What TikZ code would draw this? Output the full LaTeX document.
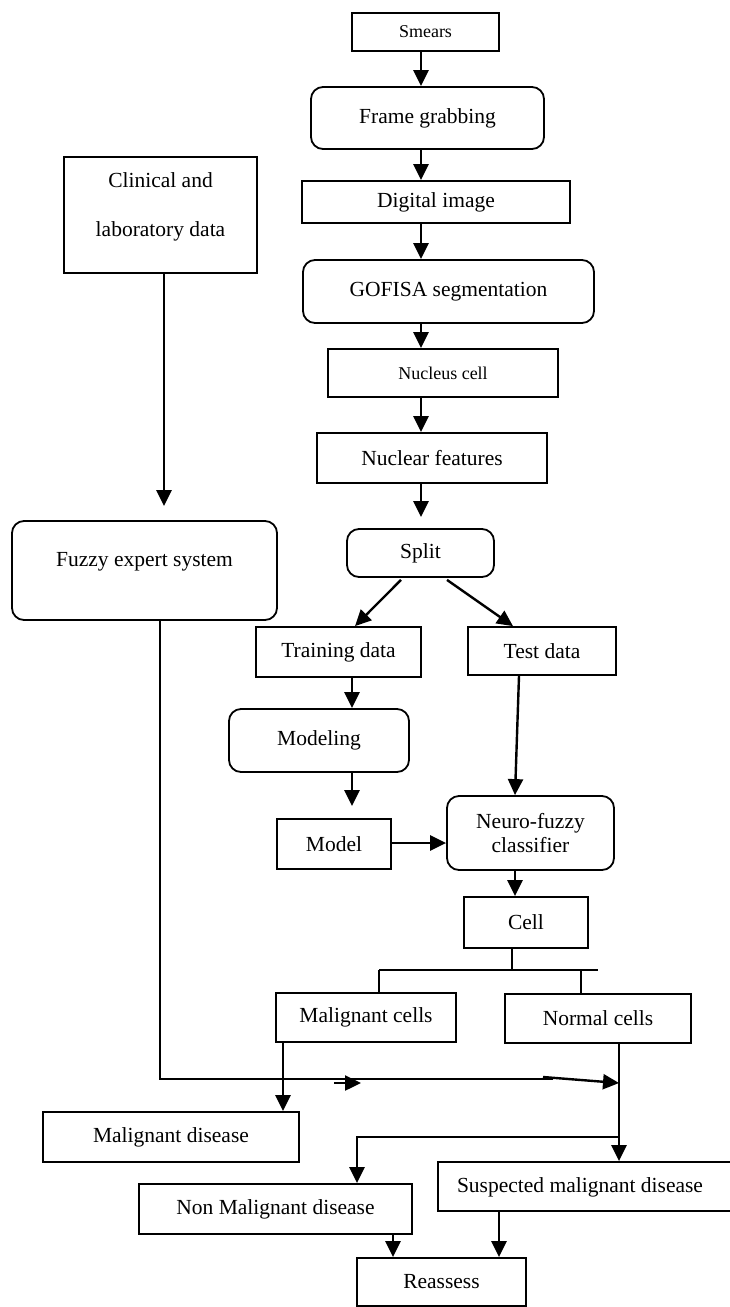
\documentclass[tikz,border=0pt]{standalone}
\usepackage{fontspec}
\setmainfont{Liberation Serif}
\usetikzlibrary{arrows.meta,calc}
\begin{document}
\begin{tikzpicture}[x=1pt,y=-1pt,
  box/.style={draw,line width=1.8pt,inner sep=0pt,font=\fontsize{21.5pt}{25pt}\selectfont,align=center},
  rbox/.style={box,rounded corners=12pt},
  small/.style={font=\fontsize{18pt}{22pt}\selectfont},
  txt/.style={inner sep=0pt,font=\fontsize{21.5pt}{25pt}\selectfont,align=center},
  arr/.style={line width=2.4pt,-{Triangle[length=16pt,width=15pt]}},
  ln/.style={line width=1.8pt},
]
\useasboundingbox (0,0) rectangle (729,1307);
% nodes
\node[box,small,minimum width=147pt,minimum height=38pt] (smears) at (425.5,32) {Smears};
\node[rbox,minimum width=233pt,minimum height=62pt] (frame) at (427.5,118) {Frame grabbing};
\node[box,minimum width=268pt,minimum height=42pt] (digital) at (436,202) {Digital image};
\node[rbox,minimum width=291pt,minimum height=63pt] (gofisa) at (448.5,291.5) {GOFISA segmentation};
\node[box,minimum width=193pt,minimum height=116pt] (clinical) at (160.5,215) {};
\node[txt] (clinicalT) at (160.5,207) {Clinical and\\[24pt]laboratory data};
\node[box,small,minimum width=230pt,minimum height=48pt] (nucleus) at (443,373) {Nucleus cell};
\node[box,minimum width=230pt,minimum height=50pt] (nuclear) at (432,458) {Nuclear features};
\node[rbox,minimum width=147pt,minimum height=48pt] (split) at (420.5,553) {Split};
\node[rbox,minimum width=265pt,minimum height=99pt] (fuzzy) at (144.5,570.5) {};
\node[txt] (fuzzyT) at (144.5,562) {Fuzzy expert system};
\node[box,minimum width=165pt,minimum height=50pt] (training) at (338.5,652) {Training data};
\node[box,minimum width=148pt,minimum height=48pt] (test) at (542,651) {Test data};
\node[rbox,minimum width=180pt,minimum height=63pt] (modeling) at (319,740.5) {Modeling};
\node[box,minimum width=114pt,minimum height=50pt] (model) at (334,844) {Model};
\node[rbox,minimum width=167pt,minimum height=74pt] (neuro) at (530.5,833) {Neuro-fuzzy\\[-1pt]classifier};
\node[box,minimum width=124pt,minimum height=51pt] (cell) at (526,922.5) {Cell};
\node[box,minimum width=180pt,minimum height=49pt] (malcells) at (366,1017.5) {Malignant cells};
\node[box,minimum width=186pt,minimum height=49pt] (normal) at (598,1018.5) {Normal cells};
\node[box,minimum width=256pt,minimum height=50pt] (maldis) at (171,1137) {Malignant disease};
\node[box,minimum width=307pt,minimum height=49pt] (suspected) at (591.5,1186.5) {};
\node[txt] (suspectedT) at (580,1187) {Suspected malignant disease};
\node[box,minimum width=273pt,minimum height=50pt] (nonmal) at (275.5,1209) {Non Malignant disease};
\node[box,minimum width=169pt,minimum height=48pt] (reassess) at (441.5,1282) {Reassess};
% helper coordinates
\coordinate (mx) at (421,0);
\coordinate (tx) at (352,0);
\coordinate (cx) at (515,0);
\coordinate (clx) at (164,0);
\coordinate (fx) at (160,0);
\coordinate (mcx) at (283,0);
\coordinate (nx) at (619,0);
\coordinate (rx1) at (393,0);
\coordinate (rx2) at (499,0);
% main column
\draw[arr] (smears.south -| mx) -- (frame.north -| mx);
\draw[arr] (frame.south -| mx) -- (digital.north -| mx);
\draw[arr] (digital.south -| mx) -- (gofisa.north -| mx);
\draw[arr] (gofisa.south -| mx) -- (nucleus.north -| mx);
\draw[arr] (nucleus.south -| mx) -- (nuclear.north -| mx);
\draw[arr] (nuclear.south -| mx) -- ($(split.north -| mx)+(0,-11)$);
\draw[arr] ($(split.south)+(-19.5,2)$) -- ($(training.north)+(16.5,0)$);
\draw[arr] ($(split.south)+(26.5,2)$) -- ($(test.north)+(-29,0)$);
\draw[arr] (training.south -| tx) -- (modeling.north -| tx);
\draw[arr] (modeling.south -| tx) -- ($(model.north -| tx)+(0,-12)$);
\draw[arr] ($(model.east)+(0,-1)$) -- ($(model.east -| neuro.west)+(0,-1)$);
\draw[arr] ($(test.south)+(-23,0)$) -- ($(neuro.north)+(-15.5,0)$);
\draw[arr] (neuro.south -| cx) -- (cell.north -| cx);
% cell bracket
\coordinate (bl) at (379,970);
\coordinate (bm) at (581,970);
\coordinate (br) at (598,970);
\draw[ln] ($(cell.south)+(-14,0)$) -- ($(cell.south)+(-14,21.5)$);
\draw[ln] (bl) -- (br);
\draw[ln] (bl) -- (bl |- malcells.north);
\draw[ln] (bm) -- (bm |- normal.north);
% left column
\draw[arr] (clinical.south -| clx) -- ($(fuzzy.north -| clx)+(0,-14)$);
\coordinate (h1) at (160,1079);
\coordinate (h2) at (553,1079);
\draw[ln] (fuzzy.south -| fx) -- (h1) -- (h2);
\coordinate (s1) at (543,1077);
\coordinate (j1) at (619,1083);
\draw[arr] (s1) -- (j1);
\coordinate (a1) at (334,1083);
\coordinate (a2) at (361,1083);
\draw[arr] (a1) -- (a2);
% lower part
\draw[arr] (malcells.south -| mcx) -- (maldis.north -| mcx);
\draw[arr] (normal.south -| nx) -- (suspected.north -| nx);
\coordinate (b1) at (619,1137);
\coordinate (b2) at (357,1137);
\draw[arr] (b1) -- (b2) -- (b2 |- nonmal.north);
\draw[arr] (nonmal.south -| rx1) -- (reassess.north -| rx1);
\draw[arr] (suspected.south -| rx2) -- (reassess.north -| rx2);
\end{tikzpicture}
\end{document}
